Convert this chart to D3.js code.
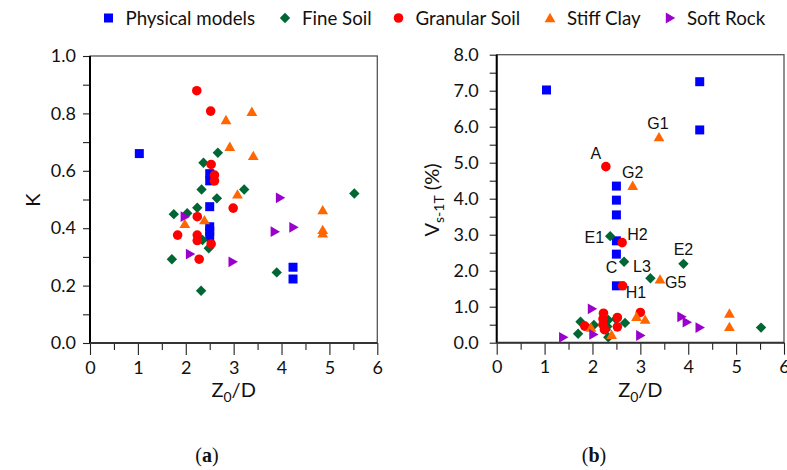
<!DOCTYPE html>
<html><head><meta charset="utf-8">
<script src="https://cdn.jsdelivr.net/npm/d3@7"></script>
<style>body{margin:0;background:#fff}svg{display:block}</style>
</head><body><svg id="c" width="787" height="470"></svg>
<script>
// ---------- data ----------
const seriesNames  = ["Physical models", "Fine Soil", "Granular Soil", "Stiff Clay", "Soft Rock"];
const seriesColors = ["#0000ff", "#006633", "#ff0000", "#ff6600", "#9900cc"];
const seriesShapes = ["square", "diamond", "circle", "triangleUp", "triangleRight"];

const xTickValues = [0, 1, 2, 3, 4, 5, 6];
const kTickValues = [0, 0.2, 0.4, 0.6, 0.8, 1.0];
const vTickValues = [0, 1, 2, 3, 4, 5, 6, 7, 8];

// Panel (a): [Z0/D, K]
const aPhysical = [[1.03,0.66],[2.5,0.59],[2.5,0.565],[2.5,0.475],[2.5,0.405],[2.5,0.39],[2.5,0.37],[4.24,0.264],[4.24,0.223]];
const aFine = [[2.67,0.663],[2.37,0.628],[2.33,0.535],[3.22,0.535],[2.65,0.504],[2.24,0.471],[1.75,0.449],[2.03,0.452],[2.35,0.359],[2.48,0.33],[1.71,0.292],[2.32,0.182],[3.9,0.246],[5.52,0.521]];
const aGranular = [[2.23,0.879],[2.52,0.808],[2.53,0.622],[2.6,0.585],[2.6,0.565],[2.99,0.47],[2.24,0.44],[1.83,0.376],[2.24,0.376],[2.24,0.357],[2.53,0.345],[2.28,0.292]];
const aStiff = [[2.84,0.777],[3.38,0.806],[2.92,0.684],[3.41,0.652],[3.08,0.518],[1.98,0.415],[2.39,0.428],[4.86,0.463],[4.86,0.394],[4.86,0.382]];
const aRock = [[1.98,0.44],[2.09,0.31],[2.98,0.283],[3.97,0.506],[4.25,0.403],[3.86,0.388]];

// Panel (b): [Z0/D, Vs-1T (%)]
const bPhysical = [[1.04,7.02],[4.24,7.25],[4.24,5.91],[2.5,4.35],[2.5,3.96],[2.5,3.55],[2.5,2.83],[2.5,2.46],[2.5,1.58]];
const bFine = [[2.37,2.96],[2.66,2.25],[3.9,2.19],[3.21,1.79],[1.75,0.58],[1.7,0.25],[2.03,0.49],[2.33,0.63],[2.31,0.45],[2.28,0.36],[2.33,0.15],[2.49,0.66],[2.68,0.55],[5.52,0.42]];
const bGranular = [[2.28,4.89],[2.62,2.78],[2.63,1.58],[1.84,0.46],[2.23,0.82],[2.22,0.66],[2.22,0.5],[2.25,0.36],[2.52,0.7],[2.52,0.44],[3.0,0.84]];
const bStiff = [[3.39,5.71],[2.84,4.36],[3.41,1.76],[1.97,0.42],[2.4,0.22],[2.92,0.72],[3.1,0.64],[4.86,0.81],[4.86,0.44]];
const bRock = [[1.99,0.94],[1.39,0.15],[2.02,0.23],[3.0,0.2],[3.86,0.72],[3.97,0.57],[4.24,0.42]];

// Annotated points in panel (b): [label, Z0/D, Vs-1T]
const bLabels = [["A",2.28,4.89],["G1",3.39,5.71],["G2",2.84,4.36],["E1",2.37,2.96],["H2",2.62,2.78],["C",2.5,2.46],["L3",2.66,2.25],["E2",3.9,2.19],["G5",3.41,1.76],["H1",2.63,1.58]];

const panelA = [aPhysical, aFine, aGranular, aStiff, aRock];
const panelB = [bPhysical, bFine, bGranular, bStiff, bRock];

// ---------- drawing ----------
const svg = d3.select("#c");
const FONT = "Lato, 'Open Sans', sans-serif";

function symbolPath(shape) {
  switch (shape) {
    case "square": return "M-4.5,-4.5H4.5V4.5H-4.5Z";
    case "diamond": return "M0,-5.2L5.2,0L0,5.2L-5.2,0Z";
    case "circle": return d3.symbol(d3.symbolCircle, 72)();
    case "triangleUp": return "M0,-5.2L5.4,4.2L-5.4,4.2Z";
    case "triangleRight": return "M-4.2,-5.4L5.2,0L-4.2,5.4Z";
  }
}

function panel(opts) {
  const {left, right, top, bottom, yMax, yMinorStep, yTicks, yFmt, yPad, data} = opts;
  const x = d3.scaleLinear().domain([0, 6]).range([left, right]);
  const y = d3.scaleLinear().domain([0, yMax]).range([bottom, top]);
  const g = svg.append("g");

  // frame
  g.append("rect").attr("x", left).attr("y", top).attr("width", right - left).attr("height", bottom - top)
    .attr("fill", "none").attr("stroke", "#555").attr("stroke-width", 1.3);

  // x axis: minor ticks every 0.5, long ticks at integers
  const xMinor = d3.range(0, 6.01, 0.5);
  const xa = g.append("g").attr("transform", `translate(0,${bottom})`)
    .call(d3.axisBottom(x).tickValues(xMinor).tickSize(7).tickFormat(""));
  xa.select(".domain").remove();
  xa.selectAll(".tick line").attr("stroke", "#222").attr("stroke-width", 1.1)
    .attr("y2", d => Number.isInteger(d) ? 12 : 7);
  const xl = g.append("g").attr("transform", `translate(0,${bottom})`)
    .call(d3.axisBottom(x).tickValues(xTickValues).tickSize(0).tickPadding(18).tickFormat(d3.format("d")));
  xl.select(".domain").remove();
  xl.selectAll("text").attr("font-family", FONT).attr("font-size", 18).attr("fill", "#111");

  // y axis: minor ticks
  const yMinor = d3.range(0, yMax + 1e-9, yMinorStep);
  const ya = g.append("g").attr("transform", `translate(${left},0)`)
    .call(d3.axisLeft(y).tickValues(yMinor).tickSize(7).tickFormat(""));
  ya.select(".domain").remove();
  ya.selectAll(".tick line").attr("stroke", "#222").attr("stroke-width", 1.1);
  const yl = g.append("g").attr("transform", `translate(${left},0)`)
    .call(d3.axisLeft(y).tickValues(yTicks).tickSize(0).tickPadding(yPad).tickFormat(yFmt));
  yl.select(".domain").remove();
  yl.selectAll("text").attr("font-family", FONT).attr("font-size", 18).attr("fill", "#111");

  // axis lines
  g.append("line").attr("x1", left).attr("x2", left).attr("y1", top).attr("y2", bottom).attr("stroke", "#000").attr("stroke-width", 2);
  g.append("line").attr("x1", left).attr("x2", right).attr("y1", bottom).attr("y2", bottom).attr("stroke", "#333").attr("stroke-width", 2);

  // points
  data.forEach((pts, i) => {
    g.append("g").selectAll("path").data(pts).join("path")
      .attr("d", symbolPath(seriesShapes[i]))
      .attr("transform", d => `translate(${x(d[0])},${y(d[1])})`)
      .attr("fill", seriesColors[i]);
  });

  // x title
  const xt = g.append("text").attr("x", (left + right) / 2).attr("y", 397).attr("text-anchor", "middle")
    .attr("font-family", FONT).attr("font-size", 20).attr("fill", "#111");
  xt.append("tspan").text("Z");
  xt.append("tspan").attr("font-size", 14).attr("dy", 5).text("0");
  xt.append("tspan").attr("dy", -5).text("/D");
  return {x, y, g};
}

const pa = panel({left: 90, right: 377.3, top: 56, bottom: 343, yMax: 1.0, yMinorStep: 0.1,
  yTicks: kTickValues, yFmt: d3.format(".1f"), yPad: 14, data: panelA});
const pb = panel({left: 496.7, right: 784, top: 54.7, bottom: 342.7, yMax: 8, yMinorStep: 0.5,
  yTicks: vTickValues, yFmt: d3.format(".1f"), yPad: 18, data: panelB});

// y titles
svg.append("text").attr("transform", "translate(40,200) rotate(-90)").attr("text-anchor", "middle")
  .attr("font-family", FONT).attr("font-size", 20).attr("fill", "#111").text("K");
const vt = svg.append("text").attr("transform", "translate(439,200) rotate(-90)").attr("text-anchor", "middle")
  .attr("font-family", FONT).attr("font-size", 20).attr("fill", "#111");
vt.append("tspan").text("V");
vt.append("tspan").attr("font-size", 14).attr("dy", 5).text("s-1T");
vt.append("tspan").attr("dy", -5).text(" (%)");

// annotation labels (offsets in px from the point)
const labelOffsets = {A:[-10,-8,"middle"], G1:[-1,-8,"middle"], G2:[0,-8,"middle"], E1:[-6,7,"end"],
  H2:[5,-3,"start"], C:[-5,19,"middle"], L3:[9,10,"start"], E2:[0,-9,"middle"], G5:[5,9,"start"], H1:[3,12,"start"]};
pb.g.append("g").selectAll("text").data(bLabels).join("text")
  .attr("x", d => pb.x(d[1]) + labelOffsets[d[0]][0])
  .attr("y", d => pb.y(d[2]) + labelOffsets[d[0]][1])
  .attr("text-anchor", d => labelOffsets[d[0]][2])
  .attr("font-family", "'Liberation Sans', Arial, sans-serif").attr("font-size", 16).attr("fill", "#111")
  .text(d => d[0]);

// legend
const legendX = [108.5, 285, 398.5, 550, 670];
const lg = svg.append("g");
seriesNames.forEach((name, i) => {
  lg.append("path").attr("d", symbolPath(seriesShapes[i])).attr("transform", `translate(${legendX[i]},18)`)
    .attr("fill", seriesColors[i]);
  lg.append("text").attr("x", legendX[i] + 17).attr("y", 24.5).attr("font-family", FONT).attr("font-size", 18.7)
    .attr("fill", "#111").text(name);
});

// panel captions
[["a", 207], ["b", 594]].forEach(([c, cx]) => {
  const t = svg.append("text").attr("x", cx).attr("y", 462).attr("text-anchor", "middle")
    .attr("font-family", "'Liberation Serif', serif").attr("font-size", 20).attr("fill", "#111");
  t.append("tspan").text("(");
  t.append("tspan").attr("font-weight", "bold").text(c);
  t.append("tspan").text(")");
});
</script></body></html>
